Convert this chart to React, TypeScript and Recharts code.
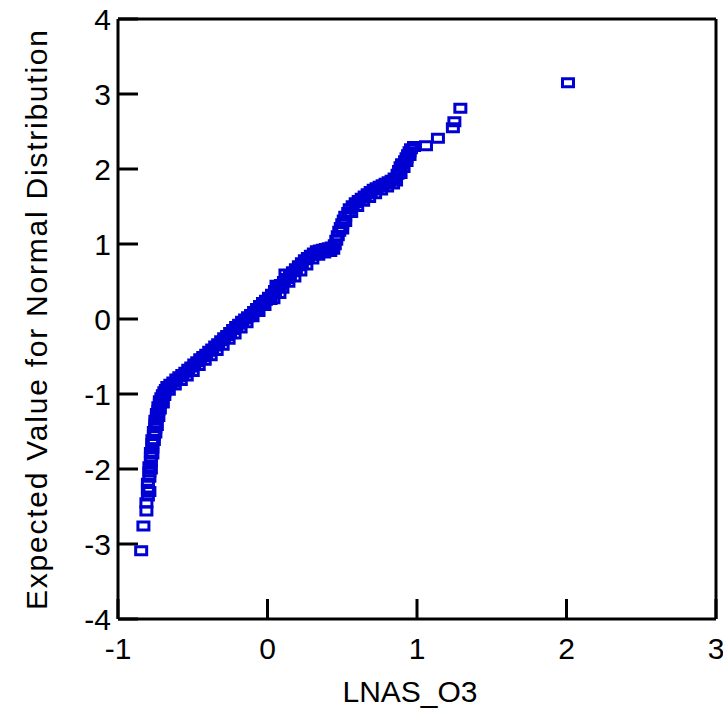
import React from "react"
import { ScatterChart, Scatter, XAxis, YAxis } from "recharts"

// LNAS_O3 values (x)
const lnasO3 = [
  -0.845, -0.83, -0.81, -0.81, -0.8, -0.8, -0.8, -0.79, -0.79, -0.79,
  -0.78, -0.78, -0.78, -0.77, -0.77, -0.77, -0.76, -0.76, -0.75, -0.75,
  -0.75, -0.74, -0.74, -0.73, -0.73, -0.72, -0.72, -0.71, -0.7, -0.69,
  -0.68, -0.67, -0.65, -0.63, -0.61, -0.59, -0.57, -0.55, -0.53, -0.51,
  -0.49, -0.47, -0.45, -0.43, -0.41, -0.39, -0.37, -0.35, -0.33, -0.31,
  -0.29, -0.27, -0.25, -0.23, -0.21, -0.19, -0.17, -0.15, -0.13, -0.11,
  -0.09, -0.07, -0.05, -0.03, -0.01, 0.01, 0.03, 0.05, 0.06, 0.07,
  0.09, 0.11, 0.12, 0.13, 0.15, 0.17, 0.19, 0.21, 0.23, 0.25,
  0.27, 0.29, 0.31, 0.33, 0.35, 0.37, 0.39, 0.41, 0.43, 0.45,
  0.46, 0.47, 0.48, 0.49, 0.5, 0.51, 0.52, 0.54, 0.55, 0.57,
  0.59, 0.61, 0.63, 0.65, 0.67, 0.69, 0.71, 0.73, 0.75, 0.77,
  0.79, 0.81, 0.83, 0.85, 0.87, 0.88, 0.89, 0.9, 0.92, 0.93,
  0.94, 0.95, 0.96, 0.98, 1.06, 1.14, 1.24, 1.25, 1.29, 2.01,
  // points off the centre of the dense band
  -0.79, -0.78, -0.77, -0.76, -0.75, -0.74, -0.73, -0.72, -0.7, -0.69,
  -0.66, -0.62, -0.58, -0.54, -0.5, -0.46, -0.42, -0.38, -0.34, -0.3,
  -0.26, -0.22, -0.18, -0.14, -0.1, -0.06, -0.02, 0.02, 0.04, 0.08,
  0.1, 0.14, 0.18, 0.22, 0.26, 0.3, 0.34, 0.38, 0.42, 0.44,
  0.5, 0.52, 0.56, 0.6, 0.64, 0.68, 0.72, 0.76, 0.8, 0.84,
  0.86, 0.89, 0.91, 0.93, 0.95,
]

// expected normal quantiles (y)
const normalExpected = [
  -3.09, -2.76, -2.56, -2.45, -2.36, -2.27, -2.19, -2.11, -2.04, -1.97,
  -1.9, -1.84, -1.78, -1.72, -1.66, -1.61, -1.55, -1.5, -1.45, -1.4,
  -1.35, -1.31, -1.26, -1.22, -1.17, -1.13, -1.09, -1.05, -1.01, -0.97,
  -0.94, -0.9, -0.87, -0.84, -0.8, -0.77, -0.74, -0.71, -0.67, -0.64,
  -0.6, -0.57, -0.53, -0.5, -0.47, -0.43, -0.4, -0.36, -0.33, -0.29,
  -0.25, -0.22, -0.18, -0.14, -0.1, -0.07, -0.03, 0.0, 0.03, 0.06,
  0.1, 0.14, 0.18, 0.22, 0.25, 0.29, 0.33, 0.38, 0.45, 0.42,
  0.46, 0.5, 0.6, 0.54, 0.58, 0.63, 0.67, 0.71, 0.75, 0.79,
  0.82, 0.85, 0.88, 0.91, 0.92, 0.93, 0.94, 0.95, 0.96, 0.99,
  1.05, 1.11, 1.17, 1.22, 1.27, 1.32, 1.37, 1.42, 1.47, 1.51,
  1.55, 1.58, 1.61, 1.64, 1.67, 1.7, 1.73, 1.75, 1.77, 1.79,
  1.81, 1.83, 1.85, 1.88, 1.93, 1.98, 2.03, 2.07, 2.11, 2.15,
  2.19, 2.23, 2.27, 2.3, 2.31, 2.41, 2.55, 2.63, 2.81, 3.15,
  // points off the centre of the dense band
  -2.3, -2.0, -1.8, -1.62, -1.52, -1.42, -1.3, -1.2, -1.12, -1.02,
  -0.95, -0.88, -0.82, -0.76, -0.7, -0.62, -0.55, -0.49, -0.42, -0.35,
  -0.27, -0.2, -0.12, -0.05, 0.03, 0.1, 0.18, 0.26, 0.27, 0.34,
  0.41, 0.49, 0.56, 0.64, 0.72, 0.8, 0.85, 0.88, 0.9, 0.93,
  1.2, 1.3, 1.42, 1.5, 1.57, 1.62, 1.67, 1.72, 1.76, 1.8,
  1.84, 1.94, 2.02, 2.1, 2.18,
]

const xTicks = [-1, 0, 1, 2, 3]
const yTicks = [-4, -3, -2, -1, 0, 1, 2, 3, 4]

const data = lnasO3.map((x, i) => ({ x, y: normalExpected[i] }))

const BLUE = "#0000d2"
const FONT = "'Liberation Sans', Arial, sans-serif"

const SquareMarker = (props: any) => {
  const { cx, cy } = props
  if (cx == null || cy == null) return null
  return <rect x={cx - 5.5} y={cy - 4} width={11} height={8} fill="none" stroke={BLUE} strokeWidth={3} />
}

const YTitle = () => (
  <text
    x={47}
    y={320}
    transform="rotate(-90, 47, 320)"
    textAnchor="middle"
    textLength={580}
    lengthAdjust="spacing"
    fontSize={30}
    fontFamily={FONT}
    fill="#000"
  >
    Expected Value for Normal Distribution
  </text>
)

const XTitle = () => (
  <text x={410} y={702} textAnchor="middle" fontSize={30} fontFamily={FONT} fill="#000">
    LNAS_O3
  </text>
)

const axisLine = { stroke: "#000", strokeWidth: 3 }
const tickLine = { stroke: "#000", strokeWidth: 3 }
const tickStyle = { fontSize: 30, fill: "#000", fontFamily: FONT }

export default function App() {
  return (
    <div style={{ position: "absolute", left: 0, top: 0, width: 723, height: 713, background: "#fff" }}>
      <ScatterChart width={723} height={713} margin={{ top: 0, right: 0, bottom: 0, left: 0 }}>
        <XAxis
          xAxisId="bottom"
          type="number"
          dataKey="x"
          domain={[-1, 3]}
          ticks={xTicks}
          allowDataOverflow
          height={94}
          axisLine={axisLine}
          tickLine={tickLine}
          tickSize={-20}
          tickMargin={39}
          tick={tickStyle}
          interval={0}
          label={XTitle}
        />
        <XAxis
          xAxisId="top"
          orientation="top"
          type="number"
          domain={[-1, 3]}
          ticks={xTicks}
          allowDataOverflow
          height={19}
          axisLine={axisLine}
          tickLine={tickLine}
          tickSize={-20}
          tick={false}
        />
        <YAxis
          yAxisId="left"
          type="number"
          dataKey="y"
          domain={[-4, 4]}
          ticks={yTicks}
          allowDataOverflow
          width={118}
          axisLine={axisLine}
          tickLine={tickLine}
          tickSize={-20}
          tickMargin={27}
          tick={tickStyle}
          interval={0}
          label={YTitle}
        />
        <YAxis
          yAxisId="right"
          orientation="right"
          type="number"
          domain={[-4, 4]}
          ticks={yTicks}
          allowDataOverflow
          width={7}
          axisLine={axisLine}
          tickLine={tickLine}
          tickSize={-20}
          tick={false}
        />
        <Scatter
          data={data}
          xAxisId="bottom"
          yAxisId="left"
          shape={SquareMarker}
          isAnimationActive={false}
        />
      </ScatterChart>
    </div>
  )
}
